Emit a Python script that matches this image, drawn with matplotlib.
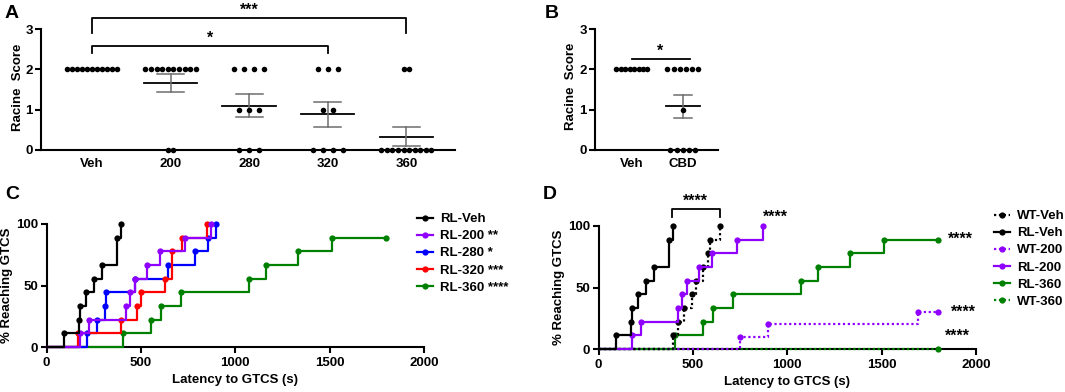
import numpy as np
import matplotlib
matplotlib.use('Agg')
import matplotlib.pyplot as plt
from matplotlib.lines import Line2D

plt.rcParams['font.family'] = ['Liberation Sans', 'DejaVu Sans']
plt.rcParams['font.weight'] = 'bold'
plt.rcParams['axes.labelweight'] = 'bold'
plt.rcParams['font.size'] = 9.5
plt.rcParams['axes.linewidth'] = 1.5

W, H = 1065, 392

# ---------------- data ----------------
# panel A: racine score per mouse for each dose
dose_labels = ['Veh', '200', '280', '320', '360']
racine_veh = [2, 2, 2, 2, 2, 2, 2, 2, 2, 2, 2]
racine_200 = [2, 2, 2, 2, 2, 2, 2, 2, 2, 2, 0, 0]
racine_280 = [2, 2, 2, 2, 1, 1, 1, 0, 0, 0]
racine_320 = [2, 2, 2, 1, 1, 0, 0, 0, 0]
racine_360 = [2, 2, 0, 0, 0, 0, 0, 0, 0, 0, 0, 0]

# panel B
cbd_labels = ['Veh', 'CBD']
racine_veh_b = [2, 2, 2, 2, 2, 2, 2, 2]
racine_cbd = [2, 2, 2, 2, 2, 2, 1, 0, 0, 0, 0, 0]

# panels C/D: latency (s) to GTCS and cumulative % reaching GTCS
rlveh_t = [93, 172, 176, 210, 254, 296, 373, 395]
rlveh_p = [11.1, 22.2, 33.3, 44.4, 55.6, 66.7, 88.9, 100]
rl200_t = [178, 227, 423, 445, 468, 535, 600, 733, 870]
rl200_p = [11.1, 22.2, 33.3, 44.4, 55.6, 66.7, 77.8, 88.9, 100]
rl280_t = [213, 266, 312, 316, 470, 642, 786, 854, 898]
rl280_p = [11.1, 22.2, 33.3, 44.4, 55.6, 66.7, 77.8, 88.9, 100]
rl320_t = [168, 395, 478, 500, 628, 665, 716, 848]
rl320_p = [11.1, 22.2, 33.3, 44.4, 55.6, 77.8, 88.9, 100]
rl360_t = [404, 552, 605, 713, 1072, 1162, 1330, 1515, 1800]
rl360_p = [11.1, 22.2, 33.3, 44.4, 55.6, 66.7, 77.8, 88.9, 88.9]
wtveh_t = [396, 419, 455, 494, 517, 552, 578, 591, 644]
wtveh_p = [11.1, 22.2, 33.3, 44.4, 55.6, 66.7, 77.8, 88.9, 100]
wt200_t = [750, 900, 1694, 1800]
wt200_p = [10, 20, 30, 30]
wt360_t = [1800]
wt360_p = [0]

PURPLE = '#8f00ff'
BLUE = '#0000ff'
RED = '#ff0000'
GREEN = '#008000'


def column_scatter(ax, xc, vals, spread, max_step):
    # prism style: points at same score spread out sideways, mean +- SEM
    vals = np.array(vals, dtype=float)
    levels, counts = np.unique(vals, return_counts=True)
    nmax = counts.max()
    step = max_step if nmax < 2 else min(max_step, spread / (nmax - 1))
    for lv, n in zip(levels, counts):
        xs = xc + (np.arange(n) - (n - 1) / 2) * step
        ax.plot(xs, [lv] * n, 'o', color='k', ms=4, mec='none', clip_on=False, zorder=4)
    sem = vals.std(ddof=1) / np.sqrt(len(vals))
    if sem > 0:
        m = vals.mean()
        ax.plot([xc - 0.34, xc + 0.34], [m, m], color='k', lw=1.3, zorder=3)
        ax.plot([xc, xc], [m - sem, m + sem], color='#6e6e6e', lw=1.1, zorder=3)
        for yy in (m - sem, m + sem):
            ax.plot([xc - 0.17, xc + 0.17], [yy, yy], color='#6e6e6e', lw=1.1, zorder=3)


def style_axes(ax):
    for s in ('top', 'right'):
        ax.spines[s].set_visible(False)
    ax.tick_params(width=1.5, length=4, pad=2)


def km_curve(ax, t, p, color, ls='-', z=3):
    x = np.r_[0, t]
    y = np.r_[0, p]
    ax.plot(x, y, drawstyle='steps-post', color=color, lw=1.6, ls=ls, clip_on=False, zorder=z)
    ax.plot(t, p, 'o', color=color, ms=4.5, mec='none', clip_on=False, zorder=z)
    return Line2D([], [], color=color, lw=1.6, ls=ls, marker='o', ms=4.5, mec='none')


fig = plt.figure(figsize=(W / 100, H / 100), dpi=100)

# ---------------- A ----------------
axA = fig.add_axes([41 / W, 1 - 150 / H, 414 / W, 121 / H])
style_axes(axA)
for i, v in enumerate([racine_veh, racine_200, racine_280, racine_320, racine_360]):
    column_scatter(axA, i, v, 0.64, 0.127)
axA.set_xlim(-0.65, 4.62)
axA.set_ylim(0, 3)
axA.set_yticks([0, 1, 2, 3])
axA.set_xticks(range(len(dose_labels)))
axA.set_xticklabels(dose_labels)
axA.tick_params(axis='x', length=0, pad=6)
axA.set_ylabel('Racine  Score')
axA.yaxis.set_label_coords(-0.04, 0.52)
axA.plot([0, 0, 4, 4], [2.9, 3.27, 3.27, 2.9], color='k', lw=1.3, clip_on=False)
axA.text(2, 3.28, '***', ha='center', va='bottom', fontsize=11.5)
axA.plot([0, 0, 3, 3], [2.4, 2.58, 2.58, 2.4], color='k', lw=1.3, clip_on=False)
axA.text(1.5, 2.59, '*', ha='center', va='bottom', fontsize=11.5)

# ---------------- B ----------------
axB = fig.add_axes([595 / W, 1 - 150 / H, 123 / W, 121 / H])
style_axes(axB)
for i, v in enumerate([racine_veh_b, racine_cbd]):
    column_scatter(axB, i, v, 0.61, 0.127)
axB.set_xlim(-0.725, 1.69)
axB.set_ylim(0, 3)
axB.set_yticks([0, 1, 2, 3])
axB.set_xticks([0, 1])
axB.set_xticklabels(cbd_labels)
axB.tick_params(axis='x', length=0, pad=6)
axB.set_ylabel('Racine  Score')
axB.yaxis.set_label_coords(-0.146, 0.53)
axB.plot([0.0, 1.15], [2.25, 2.25], color='k', lw=1.3, clip_on=False)
axB.text(0.56, 2.26, '*', ha='center', va='bottom', fontsize=11.5)

# ---------------- C ----------------
axC = fig.add_axes([46.5 / W, 1 - 347 / H, 377.5 / W, 123 / H])
style_axes(axC)
hC = {}
hC['g'] = km_curve(axC, rl360_t, rl360_p, GREEN, z=3)
hC['b'] = km_curve(axC, rl280_t, rl280_p, BLUE, z=4)
hC['r'] = km_curve(axC, rl320_t, rl320_p, RED, z=5)
hC['p'] = km_curve(axC, rl200_t, rl200_p, PURPLE, z=6)
hC['k'] = km_curve(axC, rlveh_t, rlveh_p, 'k', z=7)
axC.set_xlim(0, 2000)
axC.set_ylim(0, 100)
axC.set_xticks([0, 500, 1000, 1500, 2000])
axC.set_yticks([0, 50, 100])
axC.tick_params(axis='x', pad=3)
axC.set_xlabel('Latency to GTCS (s)')
axC.xaxis.set_label_coords(0.5, -0.22)
axC.set_ylabel('% Reaching GTCS')
axC.yaxis.set_label_coords(-0.088, 0.5)
axC.legend([hC['k'], hC['p'], hC['b'], hC['r'], hC['g']],
           ['RL-Veh', 'RL-200 **', 'RL-280 *', 'RL-320 ***', 'RL-360 ****'],
           loc='upper left', bbox_to_anchor=(417 / W, 1 - 213 / H), bbox_transform=fig.transFigure,
           frameon=False, borderpad=0, borderaxespad=0, handlelength=1.2,
           handletextpad=0.55, labelspacing=0.37, numpoints=1)

# ---------------- D ----------------
axD = fig.add_axes([598.5 / W, 1 - 349 / H, 377.5 / W, 123 / H])
style_axes(axD)
hD = {}
hD['rl360'] = km_curve(axD, rl360_t, rl360_p, GREEN, z=3)
hD['wt360'] = km_curve(axD, wt360_t, wt360_p, GREEN, ls=(0, (1, 1.2)), z=4)
hD['wt200'] = km_curve(axD, wt200_t, wt200_p, PURPLE, ls=(0, (1, 1.2)), z=5)
hD['wtveh'] = km_curve(axD, wtveh_t, wtveh_p, 'k', ls=(0, (1, 1.2)), z=6)
hD['rl200'] = km_curve(axD, rl200_t, rl200_p, PURPLE, z=7)
hD['rlveh'] = km_curve(axD, rlveh_t, rlveh_p, 'k', z=8)
axD.set_xlim(0, 2000)
axD.set_ylim(0, 100)
axD.set_xticks([0, 500, 1000, 1500, 2000])
axD.set_yticks([0, 50, 100])
axD.tick_params(axis='x', pad=3)
axD.set_xlabel('Latency to GTCS (s)')
axD.xaxis.set_label_coords(0.5, -0.22)
axD.set_ylabel('% Reaching GTCS')
axD.yaxis.set_label_coords(-0.088, 0.5)
axD.plot([388, 388, 644, 644], [107.5, 113.5, 113.5, 107.5], color='k', lw=1.3, clip_on=False)
axD.text(516, 114, '****', ha='center', va='bottom', fontsize=11.5)
axD.text(935, 101, '****', ha='center', va='bottom', fontsize=11.5)
axD.text(1850, 88.9, '****', ha='left', va='center', fontsize=11.5)
axD.text(1865, 30, '****', ha='left', va='center', fontsize=11.5)
axD.text(1902, 4, '****', ha='center', va='bottom', fontsize=11.5)
axD.legend([hD['wtveh'], hD['rlveh'], hD['wt200'], hD['rl200'], hD['rl360'], hD['wt360']],
           ['WT-Veh', 'RL-Veh', 'WT-200', 'RL-200', 'RL-360', 'WT-360'],
           loc='upper left', bbox_to_anchor=(994 / W, 1 - 210 / H), bbox_transform=fig.transFigure,
           frameon=False, borderpad=0, borderaxespad=0, handlelength=1.2,
           handletextpad=0.55, labelspacing=0.37, numpoints=1)

# panel letters
for letter, x, y in [('A', 5, 5), ('B', 545, 5), ('C', 5, 186), ('D', 543, 186)]:
    fig.text(x / W, 1 - y / H, letter, fontsize=14, fontweight='bold', ha='left', va='top')

fig.savefig('out.png', dpi=100)
